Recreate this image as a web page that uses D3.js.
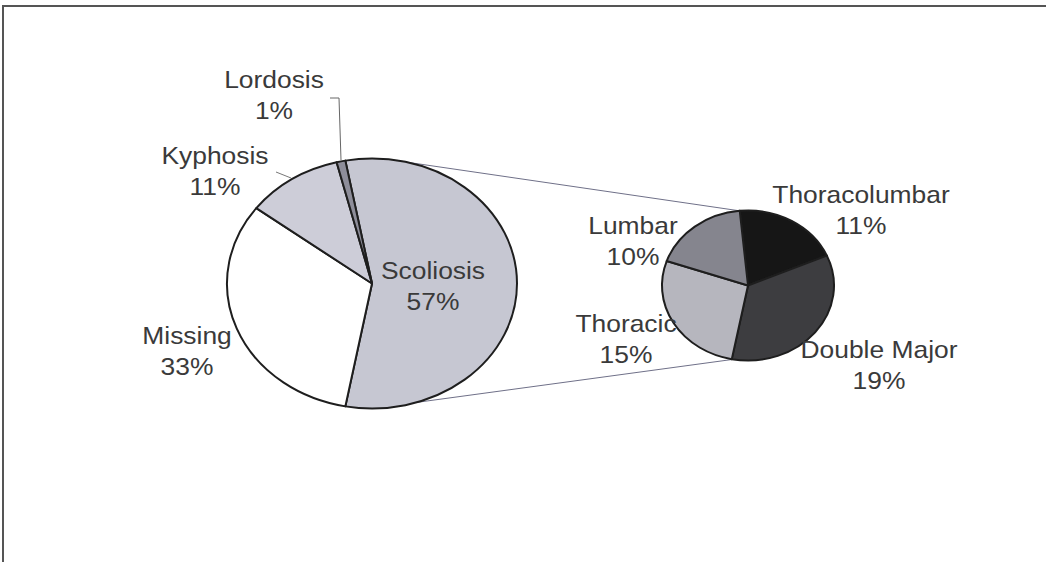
<!DOCTYPE html>
<html>
<head>
<meta charset="utf-8">
<script src="https://cdn.jsdelivr.net/npm/d3@7"></script>
<style>
  body { margin: 0; background: #fff; }
  svg { display: block; }
</style>
</head>
<body>
<script>
// Main pie data (percent of total)
var mainNames = ["Scoliosis", "Missing", "Kyphosis", "Lordosis"];
var mainValues = [57, 33, 11, 1];

// Breakdown of the scoliosis slice
var subNames = ["Thoracolumbar", "Double Major", "Thoracic", "Lumbar"];
var subValues = [11, 19, 15, 10];

var width = 1046, height = 562;
var deg = Math.PI / 180;

var mainFill = ["#c6c7d2", "#ffffff", "#cdcdd8", "#8e8e9a"];
var subFill = ["#161616", "#3d3d40", "#b6b6be", "#85858e"];

// label anchor: centre x, first baseline y
var mainLabelPos = [[433, 279], [187, 344], [215, 164], [274, 88]];
var subLabelPos = [[861, 203], [879, 358], [626, 332], [633, 234]];

var svg = d3.select("body").append("svg")
    .attr("width", width)
    .attr("height", height);

// frame
svg.append("path")
    .attr("d", "M3,562 V6 H1046")
    .attr("fill", "none")
    .attr("stroke", "#555")
    .attr("stroke-width", 2);

// pie geometry (drawn as circles, stretched sideways)
var main = { cx: 372, cy: 283.5, r: 125, sx: 145 / 125 };
var sub = { cx: 748, cy: 285.5, r: 75, sx: 86 / 75 };

var mainTotal = d3.sum(mainValues);
var splitAngle = mainValues[0] / mainTotal * 2 * Math.PI;
var mainStart = Math.PI / 2 - splitAngle / 2;

var mainPie = d3.pie().sort(null)
    .startAngle(mainStart)
    .endAngle(mainStart + 2 * Math.PI);

var subStart = -5.5 * deg;
var subPie = d3.pie().sort(null)
    .startAngle(subStart)
    .endAngle(subStart + 2 * Math.PI);

function ellipsePoint(p, a) {
  return [p.cx + p.r * p.sx * Math.sin(a), p.cy - p.r * Math.cos(a)];
}

// connector lines between the pies
var connectors = [
  [ellipsePoint(main, 14 * deg), ellipsePoint(sub, -5.5 * deg)],
  [ellipsePoint(main, 162 * deg), ellipsePoint(sub, 190 * deg)]
];
svg.selectAll(".conn")
    .data(connectors)
    .enter().append("line")
    .attr("class", "conn")
    .attr("x1", d => d[0][0]).attr("y1", d => d[0][1])
    .attr("x2", d => d[1][0]).attr("y2", d => d[1][1])
    .attr("stroke", "#6f7088")
    .attr("stroke-width", 1);

function drawPie(p, values, fills) {
  var arc = d3.arc().innerRadius(0).outerRadius(p.r);
  var g = svg.append("g")
      .attr("transform", "translate(" + p.cx + "," + p.cy + ") scale(" + p.sx + ",1)");
  g.selectAll("path")
      .data(values)
      .enter().append("path")
      .attr("d", arc)
      .attr("fill", (d, i) => fills[i])
      .attr("stroke", "#1e1e1e")
      .attr("stroke-width", 2)
      .attr("stroke-linejoin", "round")
      .attr("vector-effect", "non-scaling-stroke");
}

drawPie(main, mainPie(mainValues), mainFill);
drawPie(sub, subPie(subValues), subFill);

// leader lines
svg.append("path")
    .attr("d", "M330,98 H339 L341,160")
    .attr("fill", "none")
    .attr("stroke", "#666")
    .attr("stroke-width", 1);
svg.append("line")
    .attr("x1", 276).attr("y1", 172)
    .attr("x2", 291).attr("y2", 178)
    .attr("stroke", "#777")
    .attr("stroke-width", 1);

function drawLabels(names, values, pos) {
  names.forEach(function(n, i) {
    var g = svg.append("g")
        .attr("transform", "translate(" + pos[i][0] + "," + pos[i][1] + ") scale(1.1,1)");
    var t = g.append("text")
        .attr("text-anchor", "middle")
        .attr("font-family", "Liberation Sans, Arial, sans-serif")
        .attr("font-size", 24)
        .attr("fill", "#3a3a3a");
    t.append("tspan").attr("x", 0).attr("y", 0).text(n);
    t.append("tspan").attr("x", 0).attr("y", 31).text(values[i] + "%");
  });
}

drawLabels(mainNames, mainValues, mainLabelPos);
drawLabels(subNames, subValues, subLabelPos);
</script>
</body>
</html>
